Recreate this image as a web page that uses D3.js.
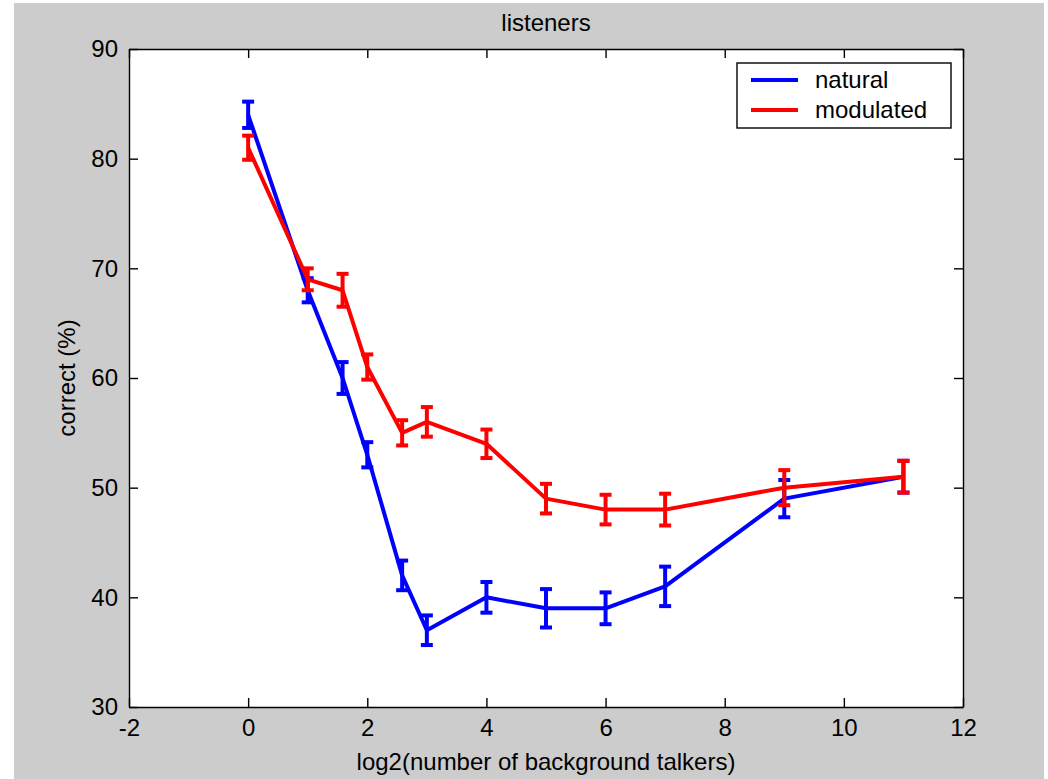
<!DOCTYPE html>
<html>
<head>
<meta charset="utf-8">
<script src="https://cdn.jsdelivr.net/npm/d3@7"></script>
<style>
  html, body { margin: 0; padding: 0; background: #ffffff; }
  svg { display: block; }
  text { font-family: "Liberation Sans", Arial, sans-serif; fill: #000; }
</style>
</head>
<body>
<svg id="chart" width="1048" height="779"></svg>
<script>
// log2 of the number of background talkers
const talkersLog2 = [0, 1, 1.585, 2, 2.585, 3, 4, 5, 6, 7, 9, 11];

// percent correct, natural background speech
const naturalMean = [84, 68, 60, 53, 42, 37, 40, 39, 39, 41, 49, 51];
const naturalErr  = [1.2, 1.1, 1.45, 1.15, 1.35, 1.35, 1.4, 1.75, 1.45, 1.8, 1.7, 1.45];

// percent correct, modulated background
const modulatedMean = [81, 69, 68, 61, 55, 56, 54, 49, 48, 48, 50, 51];
const modulatedErr  = [1.1, 1.0, 1.5, 1.15, 1.15, 1.35, 1.3, 1.35, 1.35, 1.45, 1.6, 1.45];

const xTicks = [-2, 0, 2, 4, 6, 8, 10, 12];
const yTicks = [30, 40, 50, 60, 70, 80, 90];
const seriesNames = ["natural", "modulated"];
const seriesColors = ["#0000ff", "#ff0000"];

const svg = d3.select("#chart");
const W = 1048, H = 779;
const plot = { left: 129, right: 963, top: 49, bottom: 707 };

// figure background
svg.append("rect").attr("x", 14).attr("y", 3).attr("width", 1030).attr("height", H - 3)
  .attr("fill", "#cccccc");

const x = d3.scaleLinear().domain([-2, 12]).range([plot.left, plot.right]);
const y = d3.scaleLinear().domain([30, 90]).range([plot.bottom, plot.top]);

// axes area
svg.append("rect")
  .attr("x", plot.left).attr("y", plot.top)
  .attr("width", plot.right - plot.left).attr("height", plot.bottom - plot.top)
  .attr("fill", "#ffffff");

const tickLen = 9;
const fontSize = 24;
const plainFormat = d => String(d);

function styleAxis(g) {
  g.selectAll("path.domain").attr("stroke", "#000").attr("stroke-width", 1.4);
  g.selectAll(".tick line").attr("stroke", "#000").attr("stroke-width", 1.4);
  g.selectAll(".tick text").attr("font-size", fontSize)
    .attr("font-family", "'Liberation Sans', Arial, sans-serif").attr("fill", "#000");
}

svg.append("g").attr("transform", `translate(0,${plot.bottom})`)
  .call(d3.axisBottom(x).tickValues(xTicks).tickFormat(plainFormat)
    .tickSize(-tickLen).tickSizeOuter(0).tickPadding(12))
  .call(styleAxis);
svg.append("g").attr("transform", `translate(${plot.left},0)`)
  .call(d3.axisLeft(y).tickValues(yTicks).tickFormat(plainFormat)
    .tickSize(-tickLen).tickSizeOuter(0).tickPadding(11))
  .call(styleAxis);
svg.append("g").attr("transform", `translate(0,${plot.top})`)
  .call(d3.axisTop(x).tickValues(xTicks).tickSize(-tickLen).tickSizeOuter(0).tickFormat(""))
  .call(styleAxis);
svg.append("g").attr("transform", `translate(${plot.right},0)`)
  .call(d3.axisRight(y).tickValues(yTicks).tickSize(-tickLen).tickSizeOuter(0).tickFormat(""))
  .call(styleAxis);

// series lines with error bars
const series = [
  { name: seriesNames[0], color: seriesColors[0], mean: naturalMean, err: naturalErr },
  { name: seriesNames[1], color: seriesColors[1], mean: modulatedMean, err: modulatedErr }
];

const line = d3.line().x(d => x(d.x)).y(d => y(d.m));
const capHalf = 6;

series.forEach(s => {
  const pts = talkersLog2.map((v, i) => ({ x: v, m: s.mean[i], e: s.err[i] }));
  const g = svg.append("g");
  g.append("path").datum(pts).attr("d", line)
    .attr("fill", "none").attr("stroke", s.color).attr("stroke-width", 4)
    .attr("stroke-linejoin", "round");
  const eb = g.selectAll("g.eb").data(pts).join("g").attr("class", "eb");
  eb.append("line")
    .attr("x1", d => x(d.x)).attr("x2", d => x(d.x))
    .attr("y1", d => y(d.m - d.e)).attr("y2", d => y(d.m + d.e))
    .attr("stroke", s.color).attr("stroke-width", 4);
  eb.append("line")
    .attr("x1", d => x(d.x) - capHalf).attr("x2", d => x(d.x) + capHalf)
    .attr("y1", d => y(d.m + d.e)).attr("y2", d => y(d.m + d.e))
    .attr("stroke", s.color).attr("stroke-width", 4);
  eb.append("line")
    .attr("x1", d => x(d.x) - capHalf).attr("x2", d => x(d.x) + capHalf)
    .attr("y1", d => y(d.m - d.e)).attr("y2", d => y(d.m - d.e))
    .attr("stroke", s.color).attr("stroke-width", 4);
});

// legend
const lg = svg.append("g");
lg.append("rect").attr("x", 737).attr("y", 63).attr("width", 214).attr("height", 65)
  .attr("fill", "#ffffff").attr("stroke", "#000").attr("stroke-width", 1.4);
series.forEach((s, i) => {
  const ly = 80 + i * 30;
  lg.append("line").attr("x1", 751).attr("x2", 798).attr("y1", ly).attr("y2", ly)
    .attr("stroke", s.color).attr("stroke-width", 4);
  lg.append("text").attr("x", 815).attr("y", ly + 8).attr("font-size", fontSize).text(s.name);
});

// titles
svg.append("text").attr("x", (plot.left + plot.right) / 2).attr("y", 31)
  .attr("text-anchor", "middle").attr("font-size", fontSize).text("listeners");
svg.append("text").attr("x", (plot.left + plot.right) / 2).attr("y", 770)
  .attr("text-anchor", "middle").attr("font-size", fontSize).text("log2(number of background talkers)");
svg.append("text").attr("transform", `translate(75,${(plot.top + plot.bottom) / 2}) rotate(-90)`)
  .attr("text-anchor", "middle").attr("font-size", fontSize).text("correct (%)");
</script>
</body>
</html>
